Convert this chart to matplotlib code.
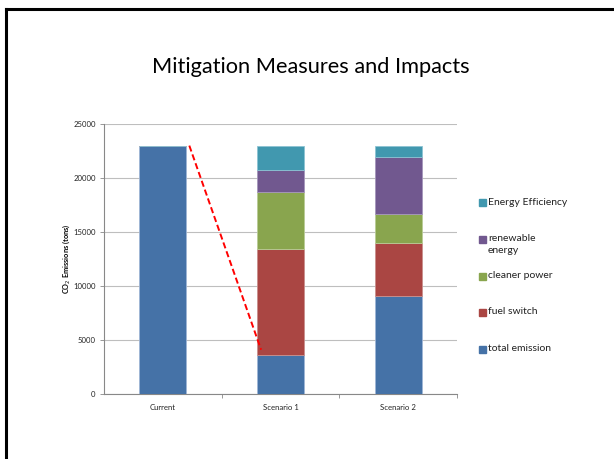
import matplotlib
matplotlib.use("Agg")
import matplotlib.pyplot as plt
from matplotlib.patches import Rectangle
from matplotlib.lines import Line2D
import numpy as np

plt.rcParams['font.family'] = ['Lato', 'DejaVu Sans']

categories = ["Current", "Scenario 1", "Scenario 2"]
series_names = ["total emission", "fuel switch", "cleaner power",
                "renewable\nenergy", "Energy Efficiency"]
total_emission = [23000, 3600, 9100]
fuel_switch = [0, 9800, 4850]
cleaner_power = [0, 5300, 2700]
renewable_energy = [0, 2000, 5250]
energy_efficiency = [0, 2300, 1100]
connector_y = [23000, 4100]

series = [total_emission, fuel_switch, cleaner_power,
          renewable_energy, energy_efficiency]
colors = ["#4572A7", "#AA4643", "#89A54E", "#71588F", "#4198AF"]
edges = ["#9fb6d6", "#c98f8d", "#b9cc96", "#a596bb", "#8cc3d3"]

W, H = 614, 459
fig = plt.figure(figsize=(W / 100, H / 100), dpi=100)
fig.patch.set_facecolor("white")

# slide frame
fig.add_artist(Line2D([6 / W, 6 / W], [0, 1 - 9 / H], color="black", lw=2.2,
                      transform=fig.transFigure))
fig.add_artist(Line2D([6 / W, 1], [1 - 9 / H, 1 - 9 / H], color="black", lw=2.2,
                      transform=fig.transFigure))

fig.text(311 / W, 1 - 67 / H, "Mitigation Measures and Impacts",
         ha="center", va="center", fontsize=15.7, color="black")

ax = fig.add_axes([104 / W, 1 - 394 / H, (457 - 104) / W, (394 - 124) / H])
x = np.arange(len(categories))
bottom = np.zeros(len(categories))
for vals, c, e in zip(series, colors, edges):
    v = np.array(vals, dtype=float)
    ax.bar(x, v, width=0.4, bottom=bottom, color=c, edgecolor=e,
           linewidth=0.6, zorder=3)
    bottom += v

ax.plot([0.225, 0.835], connector_y, color="red", lw=1.4,
        linestyle=(0, (3.2, 1.6)), zorder=4)

ax.set_xlim(-0.5, 2.5)
ax.set_ylim(0, 25000)
ax.set_yticks(np.arange(0, 25001, 5000))
ax.set_xticks(x)
ax.set_xticklabels(categories, fontsize=5.6, color="#222222")
ax.set_xticks([0.5, 1.5, 2.5], minor=True)
ax.tick_params(axis="x", which="major", length=0, pad=7)
ax.tick_params(axis="x", which="minor", length=3, color="#888888", width=0.6)
ax.tick_params(axis="y", length=3, color="#888888", width=0.6,
               labelsize=5.6, labelcolor="#222222", pad=3)
ax.grid(axis="y", color="#BEBEBE", lw=0.8, zorder=0)
for s in ["top", "right"]:
    ax.spines[s].set_visible(False)
for s in ["left", "bottom"]:
    ax.spines[s].set_color("#888888")
    ax.spines[s].set_linewidth(0.8)
ax.set_ylabel("CO$_2$ Emissions (tons)", fontsize=5.3, fontweight="bold",
              labelpad=0.5)

# legend, top entry first
legend_y = [202.7, 239.3, 276, 312.3, 349]
for name, c, yy in zip(series_names[::-1], colors[::-1], legend_y):
    fig.add_artist(Rectangle(((479) / W, 1 - (yy + 3.5) / H), 7 / W, 7 / H,
                             transform=fig.transFigure, color=c))
    fig.text(488 / W, 1 - (yy - 5) / H, name, ha="left", va="top",
             fontsize=7.5, color="#222222", linespacing=1.4)

fig.savefig("out.png", dpi=100)
